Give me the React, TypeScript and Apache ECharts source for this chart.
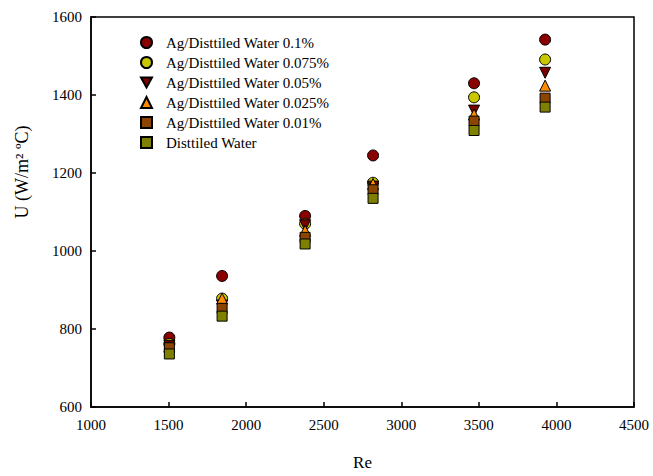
import React, { useEffect, useRef } from "react";
import * as echarts from "echarts";

const reynolds = [1505, 1845, 2380, 2818, 3469, 3927];
const ag01 = [778, 936, 1090, 1245, 1430, 1542];
const ag0075 = [762, 878, 1070, 1175, 1394, 1491];
const ag005 = [757, 860, 1066, 1165, 1360, 1457];
const ag0025 = [755, 878, 1052, 1172, 1350, 1424];
const ag001 = [752, 853, 1035, 1157, 1333, 1392];
const water = [736, 833, 1018, 1135, 1309, 1369];

const seriesNames = [
  "Ag/Disttiled Water 0.1%",
  "Ag/Disttiled Water 0.075%",
  "Ag/Disttiled Water 0.05%",
  "Ag/Disttiled Water 0.025%",
  "Ag/Disttiled Water 0.01%",
  "Disttiled Water",
];

const FONT = "'Liberation Serif', 'Times New Roman', serif";

export default function App() {
  const ref = useRef<HTMLDivElement>(null);
  useEffect(() => {
    if (!ref.current) return;
    const chart = echarts.init(ref.current, undefined, { renderer: "svg" });
    const mk = (
      name: string,
      vals: number[],
      symbol: string,
      color: string,
      size: number,
      rotate = 0
    ) => ({
      name,
      type: "scatter",
      symbol,
      symbolSize: size,
      symbolRotate: rotate,
      itemStyle: { color, borderColor: "#000", borderWidth: 1, opacity: 1 },
      data: reynolds.map((r, i) => [r, vals[i]]),
    });
    chart.setOption({
      animation: false,
      backgroundColor: "#fff",
      textStyle: { fontFamily: FONT },
      grid: {
        left: 91,
        right: 19,
        top: 17,
        bottom: 64,
        show: true,
        borderColor: "#000",
        borderWidth: 1.5,
        containLabel: false,
      },
      legend: {
        orient: "vertical",
        left: 135,
        top: 30,
        itemWidth: 11,
        itemHeight: 11,
        itemGap: 5,
        textStyle: {
          fontFamily: FONT,
          fontSize: 15,
          color: "#000",
          padding: [0, 0, 0, 9],
        },
        data: seriesNames.map((n, i) =>
          i === 2 ? { name: n, icon: "path://M0,0 L10,0 L5,9 Z" } : { name: n }
        ),
      },
      xAxis: {
        type: "value",
        min: 1000,
        max: 4500,
        interval: 500,
        name: "Re",
        nameLocation: "middle",
        nameGap: 47,
        nameTextStyle: { fontFamily: FONT, fontSize: 17, color: "#000" },
        axisLine: { show: true, lineStyle: { color: "#000", width: 1.5 } },
        axisTick: { show: true, inside: true, length: 5, lineStyle: { color: "#000", width: 1.5 } },
        axisLabel: {
          fontFamily: FONT,
          fontSize: 15,
          color: "#000",
          margin: 10,
          formatter: (v: number) => String(v),
        },
        splitLine: { show: false },
      },
      yAxis: {
        type: "value",
        min: 600,
        max: 1600,
        interval: 200,
        name: "U (W/m² ºC)",
        nameLocation: "middle",
        nameGap: 60,
        nameRotate: 90,
        nameTextStyle: {
          fontFamily: FONT,
          fontSize: 18,
          color: "#000",
          padding: [0, 0, 0, 80],
        },
        axisLine: { show: true, lineStyle: { color: "#000", width: 1.5 } },
        axisTick: { show: true, inside: true, length: 5, lineStyle: { color: "#000", width: 1.5 } },
        axisLabel: {
          fontFamily: FONT,
          fontSize: 15,
          color: "#000",
          margin: 9,
          formatter: (v: number) => String(v),
        },
        splitLine: { show: false },
      },
      series: [
        mk(seriesNames[0], ag01, "circle", "#8B0000", 11),
        mk(seriesNames[1], ag0075, "circle", "#C8C800", 11),
        mk(seriesNames[2], ag005, "triangle", "#7A0000", 11, 180),
        mk(seriesNames[3], ag0025, "triangle", "#FF8C00", 11),
        mk(seriesNames[4], ag001, "rect", "#8B4500", 10),
        mk(seriesNames[5], water, "rect", "#808000", 10),
      ],
    });
    return () => chart.dispose();
  }, []);
  return (
    <div
      ref={ref}
      style={{ position: "fixed", left: 0, top: 0, width: 653, height: 476 }}
    />
  );
}
